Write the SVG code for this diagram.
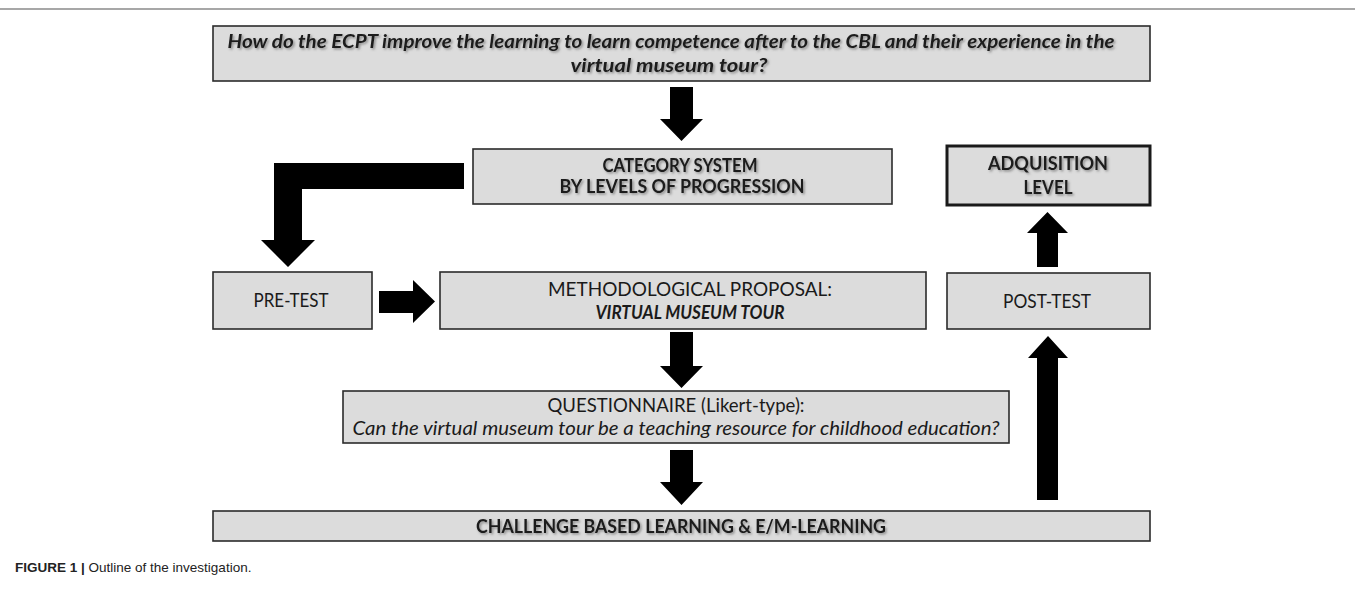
<svg xmlns="http://www.w3.org/2000/svg" width="1355" height="606" viewBox="0 0 1355 606">
  <defs>
    <filter id="txtShadow" x="-5%" y="-30%" width="110%" height="160%">
      <feDropShadow dx="1.5" dy="1.5" stdDeviation="1" flood-color="#555" flood-opacity="0.6"/>
    </filter>
    <style>
      .box { fill: #dcdcdc; stroke: #2b2b2b; stroke-width: 1.6; }
      .box-strong { fill: #dcdcdc; stroke: #1a1a1a; stroke-width: 3; }
      .t { font-family: Lato, "Open Sans", sans-serif; font-size: 18.5px; fill: #1a1a1a; text-anchor: middle; }
      .b { font-weight: bold; }
      .i { font-style: italic; }
      .sh { filter: url(#txtShadow); }
      .arrow { fill: #000; }
      .cap { font-family: "Liberation Sans", Arial, sans-serif; font-size: 13.5px; fill: #222; }
    </style>
  </defs>
  <rect width="1355" height="606" fill="#fff"/>
  <line x1="0" y1="9" x2="1355" y2="9" stroke="#8a8a8a" stroke-width="1.5"/>

  <g id="research-question">
    <rect class="box" x="213" y="26" width="937" height="55"/>
    <text class="t b i sh" x="671" y="48" textLength="887" lengthAdjust="spacingAndGlyphs">How do the ECPT improve the learning to learn competence after to the CBL and their experience in the</text>
    <text class="t b i sh" x="669" y="72" textLength="197" lengthAdjust="spacingAndGlyphs">virtual museum tour?</text>
  </g>

  <g id="category-system">
    <rect class="box" x="473" y="149" width="419" height="55"/>
    <text class="t b sh" x="680" y="172" textLength="155" lengthAdjust="spacingAndGlyphs">CATEGORY SYSTEM</text>
    <text class="t b sh" x="682" y="193" textLength="245" lengthAdjust="spacingAndGlyphs">BY LEVELS OF PROGRESSION</text>
  </g>

  <g id="acquisition-level">
    <rect class="box-strong" x="947" y="146" width="203" height="59"/>
    <text class="t b sh" x="1048" y="170" textLength="120" lengthAdjust="spacingAndGlyphs">ADQUISITION</text>
    <text class="t b sh" x="1048" y="194" textLength="49" lengthAdjust="spacingAndGlyphs">LEVEL</text>
  </g>

  <g id="pre-test">
    <rect class="box" x="213" y="272" width="159" height="57"/>
    <text class="t" x="291" y="307" textLength="75" lengthAdjust="spacingAndGlyphs">PRE-TEST</text>
  </g>

  <g id="methodological-proposal">
    <rect class="box" x="440" y="272" width="486" height="57"/>
    <text class="t" x="690" y="296" textLength="284" lengthAdjust="spacingAndGlyphs">METHODOLOGICAL PROPOSAL:</text>
    <text class="t b i" x="690" y="319" textLength="189" lengthAdjust="spacingAndGlyphs">VIRTUAL MUSEUM TOUR</text>
  </g>

  <g id="post-test">
    <rect class="box" x="947" y="273" width="203" height="56"/>
    <text class="t" x="1047" y="308" textLength="88" lengthAdjust="spacingAndGlyphs">POST-TEST</text>
  </g>

  <g id="questionnaire">
    <rect class="box" x="343" y="391" width="666" height="52"/>
    <text class="t" x="676" y="412" textLength="257" lengthAdjust="spacingAndGlyphs">QUESTIONNAIRE (Likert-type):</text>
    <text class="t i" x="676" y="435" textLength="647" lengthAdjust="spacingAndGlyphs">Can the virtual museum tour be a teaching resource for childhood education?</text>
  </g>

  <g id="cbl-learning">
    <rect class="box" x="213" y="511" width="937" height="30"/>
    <text class="t b sh" x="681" y="533" textLength="410" lengthAdjust="spacingAndGlyphs">CHALLENGE BASED LEARNING &amp; E/M-LEARNING</text>
  </g>

  <g id="connectors">
    <polygon class="arrow" points="670,87 693,87 693,119 703,119 681.5,141 660,119 670,119"/>
    <polygon class="arrow" points="464,163 274,163 274,240 261,240 288,267 315,240 302,240 302,189 464,189"/>
    <polygon class="arrow" points="379,291 413,291 413,280 435,301.5 413,323 413,313 379,313"/>
    <polygon class="arrow" points="670,332 693,332 693,366 703,366 681.5,388 660,366 670,366"/>
    <polygon class="arrow" points="670,450 693,450 693,482 703,482 681.5,505 660,482 670,482"/>
    <polygon class="arrow" points="1037,267 1037,233 1027,233 1047.5,212 1068,233 1058,233 1058,267"/>
    <polygon class="arrow" points="1037,500 1037,358 1028,358 1048,336 1068,358 1058,358 1058,500"/>
  </g>

  <text class="cap" x="15" y="572"><tspan font-weight="bold">FIGURE 1 |</tspan> Outline of the investigation.</text>
</svg>
